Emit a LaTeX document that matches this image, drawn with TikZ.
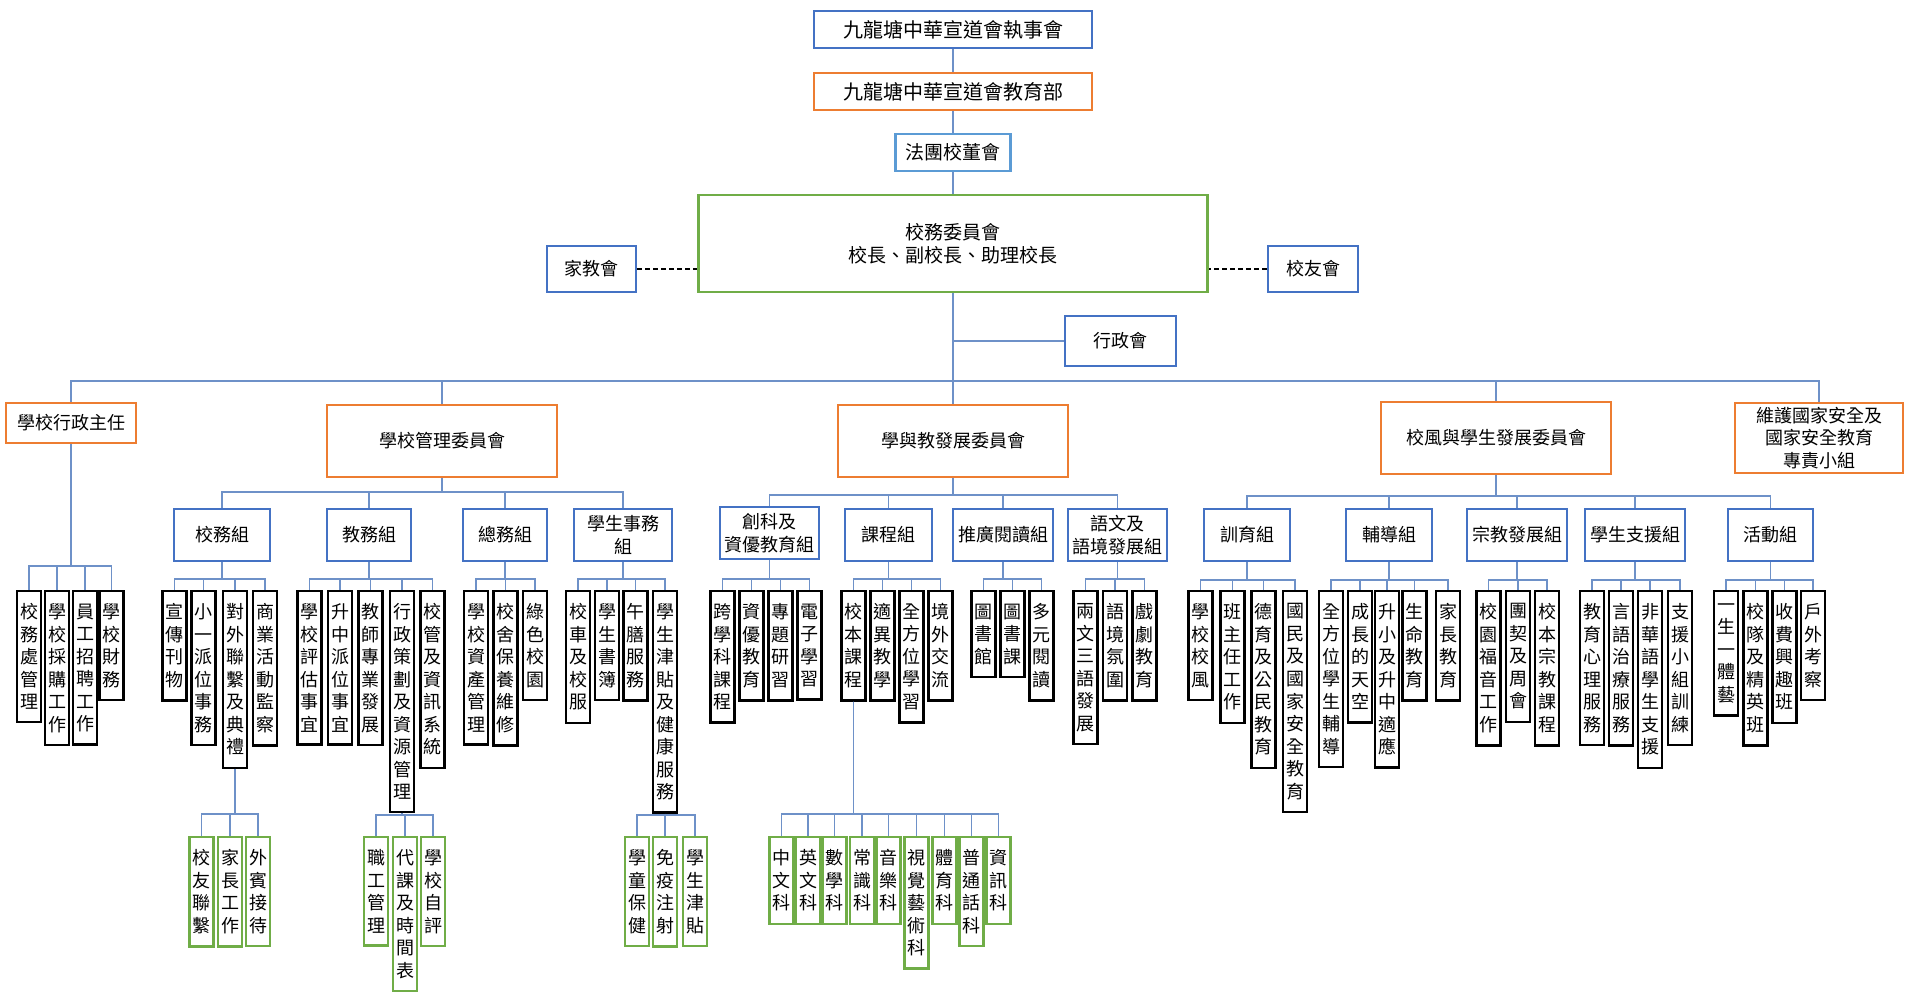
\documentclass[tikz,border=0pt]{standalone}
\usepackage{fontspec}
\setmainfont{Noto Sans CJK TC}
\usetikzlibrary{calc}
\definecolor{cblue}{RGB}{68,114,196}
\definecolor{lblue}{RGB}{91,155,213}
\definecolor{corange}{RGB}{237,125,49}
\definecolor{cgreen}{RGB}{112,173,71}
\definecolor{lineblue}{RGB}{110,145,200}
\makeatletter
\def\vt#1{\vt@a#1\@nil}
\def\vt@a#1#2\@nil{#1\ifx\relax#2\relax\expandafter\@gobble\else\expandafter\@firstofone\fi{\\\vt@a#2\@nil}}
\makeatother
\newcommand\fs[1]{\fontsize{#1}{22.5}\selectfont}
\tikzset{
  conn/.style={draw=lineblue, line width=1.4pt},
  bx/.style={draw, line width=2.4pt, fill=white, inner sep=0pt, align=center, font=\fs{18}},
  blueb/.style={bx, draw=cblue},
  orb/.style={bx, draw=corange},
  leaf/.style={draw=black, fill=white, line width=2.4pt, anchor=north, minimum width=24pt, inner xsep=0pt, inner ysep=12.5pt, align=center, font=\fs{18}},
  gleaf/.style={leaf, draw=cgreen},
  dashcon/.style={draw=black, line width=2.4pt, dash pattern=on 5pt off 3pt},
}
\newcommand\tree[3]{\foreach \ch in {#3} {\draw[conn] (#1.south) -- (#1.south |- 0,#2) -| (\ch.north);}}
\begin{document}
\begin{tikzpicture}[x=1pt,y=-1pt]
\useasboundingbox[fill=white] (0,0) rectangle (1905,995);
% ---- top ----
\node[blueb, font=\fs{20}, minimum width=278pt, minimum height=37pt] (exec) at (953,29.5) {九龍塘中華宣道會執事會};
\node[orb, font=\fs{20}, minimum width=278pt, minimum height=37pt] (edu) at (953,91.5) {九龍塘中華宣道會教育部};
\node[bx, draw=lblue, font=\fs{19}, minimum width=115pt, minimum height=37pt] (imc) at (953,152.5) {法團校董會};
\node[bx, draw=cgreen, font=\fs{19}, minimum width=509pt, minimum height=97pt] (sc) at (953,243.5) {校務委員會\\校長、副校長、助理校長};
\node[blueb, minimum width=89pt, minimum height=46pt] (pta) at (591.5,269) {家教會};
\node[blueb, minimum width=90pt, minimum height=46pt] (alu) at (1313,269) {校友會};
\node[blueb, minimum width=111pt, minimum height=50pt] (adm) at (1120.5,341) {行政會};
% ---- level 2 ----
\node[orb, minimum width=130pt, minimum height=40pt] (L1) at (71,423) {學校行政主任};
\node[orb, minimum width=230pt, minimum height=72pt] (L2) at (442,441) {學校管理委員會};
\node[orb, minimum width=230pt, minimum height=72pt] (L3) at (953,441) {學與教發展委員會};
\node[orb, minimum width=230pt, minimum height=72pt] (L4) at (1496,438) {校風與學生發展委員會};
\node[orb, minimum width=168pt, minimum height=70pt] (L5) at (1819,438) {維護國家安全及\\國家安全教育\\專責小組};
% ---- groups ----
\node[blueb, minimum width=96pt, minimum height=52pt] (g1) at (222,535) {校務組};
\node[blueb, minimum width=84pt, minimum height=52pt] (g2) at (369,535) {教務組};
\node[blueb, minimum width=84pt, minimum height=52pt] (g3) at (505,535) {總務組};
\node[blueb, minimum width=98pt, minimum height=52pt] (g4) at (623,535) {學生事務\\組};
\node[blueb, minimum width=99pt, minimum height=52pt] (g5) at (769.5,533) {創科及\\資優教育組};
\node[blueb, minimum width=87pt, minimum height=52pt] (g6) at (888.5,535) {課程組};
\node[blueb, minimum width=100pt, minimum height=52pt] (g7) at (1003,535) {推廣閱讀組};
\node[blueb, minimum width=99pt, minimum height=52pt] (g8) at (1117.5,535) {語文及\\語境發展組};
\node[blueb, minimum width=86pt, minimum height=52pt] (g9) at (1247,535) {訓育組};
\node[blueb, minimum width=86pt, minimum height=52pt] (g10) at (1389,535) {輔導組};
\node[blueb, minimum width=100pt, minimum height=52pt] (g11) at (1517,535) {宗教發展組};
\node[blueb, minimum width=100pt, minimum height=52pt] (g12) at (1635,535) {學生支援組};
\node[blueb, minimum width=85pt, minimum height=52pt] (g13) at (1770.5,535) {活動組};
% ---- leaves ----
\node[leaf] (a1) at (29,590) {\vt{校務處管理}};
\node[leaf] (a2) at (57,590) {\vt{學校採購工作}};
\node[leaf] (a3) at (85,590) {\vt{員工招聘工作}};
\node[leaf] (a4) at (111.5,590) {\vt{學校財務}};
\node[leaf] (b1) at (174.5,590) {\vt{宣傳刊物}};
\node[leaf] (b2) at (203.5,590) {\vt{小一派位事務}};
\node[leaf] (b3) at (235,590) {\vt{對外聯繫及典禮}};
\node[leaf] (b4) at (265,590) {\vt{商業活動監察}};
\node[leaf] (c1) at (309.5,590) {\vt{學校評估事宜}};
\node[leaf] (c2) at (340,590) {\vt{升中派位事宜}};
\node[leaf] (c3) at (370.5,590) {\vt{教師專業發展}};
\node[leaf] (c4) at (402,590) {\vt{行政策劃及資源管理}};
\node[leaf] (c5) at (432.5,590) {\vt{校管及資訊系統}};
\node[leaf] (d1) at (476,590) {\vt{學校資產管理}};
\node[leaf] (d2) at (505.5,590) {\vt{校舍保養維修}};
\node[leaf] (d3) at (535,590) {\vt{綠色校園}};
\node[leaf] (e1) at (578,590) {\vt{校車及校服}};
\node[leaf] (e2) at (607,590) {\vt{學生書簿}};
\node[leaf] (e3) at (635.5,590) {\vt{午膳服務}};
\node[leaf] (e4) at (665,590) {\vt{學生津貼及健康服務}};
\node[leaf] (f1) at (722.5,590) {\vt{跨學科課程}};
\node[leaf] (f2) at (751.5,590) {\vt{資優教育}};
\node[leaf] (f3) at (780.5,590) {\vt{專題研習}};
\node[leaf] (f4) at (809.5,590) {\vt{電子學習}};
\node[leaf] (h1) at (853.5,590) {\vt{校本課程}};
\node[leaf] (h2) at (882.5,590) {\vt{適異教學}};
\node[leaf] (h3) at (911.5,590) {\vt{全方位學習}};
\node[leaf] (h4) at (940.5,590) {\vt{境外交流}};
\node[leaf] (i1) at (983.5,590) {\vt{圖書館}};
\node[leaf] (i2) at (1012.5,590) {\vt{圖書課}};
\node[leaf] (i3) at (1041.5,590) {\vt{多元閱讀}};
\node[leaf] (j1) at (1085.5,590) {\vt{兩文三語發展}};
\node[leaf] (j2) at (1115,590) {\vt{語境氛圍}};
\node[leaf] (j3) at (1144.5,590) {\vt{戲劇教育}};
\node[leaf] (k1) at (1200.5,590) {\vt{學校校風}};
\node[leaf] (k2) at (1232.5,590) {\vt{班主任工作}};
\node[leaf] (k3) at (1263.5,590) {\vt{德育及公民教育}};
\node[leaf] (k4) at (1295,590) {\vt{國民及國家安全教育}};
\node[leaf] (l1) at (1331,590) {\vt{全方位學生輔導}};
\node[leaf] (l2) at (1360,590) {\vt{成長的天空}};
\node[leaf] (l3) at (1387,590) {\vt{升小及升中適應}};
\node[leaf] (l4) at (1414.5,590) {\vt{生命教育}};
\node[leaf] (l5) at (1448,590) {\vt{家長教育}};
\node[leaf] (m1) at (1488.5,590) {\vt{校園福音工作}};
\node[leaf] (m2) at (1518,590) {\vt{團契及周會}};
\node[leaf] (m3) at (1547,590) {\vt{校本宗教課程}};
\node[leaf] (n1) at (1592,590) {\vt{教育心理服務}};
\node[leaf] (n2) at (1621,590) {\vt{言語治療服務}};
\node[leaf] (n3) at (1650,590) {\vt{非華語學生支援}};
\node[leaf] (n4) at (1680,590) {\vt{支援小組訓練}};
\node[leaf] (o1) at (1726,590) {\vt{一生一體藝}};
\node[leaf] (o2) at (1755.5,590) {\vt{校隊及精英班}};
\node[leaf] (o3) at (1784.5,590) {\vt{收費興趣班}};
\node[leaf] (o4) at (1813,590) {\vt{戶外考察}};
% ---- green leaves ----
\node[gleaf] (p1) at (201.5,836) {\vt{校友聯繫}};
\node[gleaf] (p2) at (230,836) {\vt{家長工作}};
\node[gleaf] (p3) at (258,836) {\vt{外賓接待}};
\node[gleaf] (q1) at (376,836) {\vt{職工管理}};
\node[gleaf] (q2) at (405,836) {\vt{代課及時間表}};
\node[gleaf] (q3) at (433,836) {\vt{學校自評}};
\node[gleaf] (r1) at (637,836) {\vt{學童保健}};
\node[gleaf] (r2) at (665,836) {\vt{免疫注射}};
\node[gleaf] (r3) at (695,836) {\vt{學生津貼}};
\node[gleaf] (s1) at (781.5,836) {\vt{中文科}};
\node[gleaf] (s2) at (808,836) {\vt{英文科}};
\node[gleaf] (s3) at (834.5,836) {\vt{數學科}};
\node[gleaf] (s4) at (862,836) {\vt{常識科}};
\node[gleaf] (s5) at (888.5,836) {\vt{音樂科}};
\node[gleaf] (s6) at (916.5,836) {\vt{視覺藝術科}};
\node[gleaf] (s7) at (944.5,836) {\vt{體育科}};
\node[gleaf] (s8) at (971.5,836) {\vt{普通話科}};
\node[gleaf] (s9) at (998.5,836) {\vt{資訊科}};
% ---- connectors ----
\draw[conn] (exec.south) -- (edu.north);
\draw[conn] (edu.south) -- (imc.north);
\draw[conn] (imc.south) -- (sc.north);
\draw[conn] (sc.south) -- (L3.north);
\draw[conn] (sc.south |- adm.west) -- (adm.west);
\draw[dashcon] (pta.east) -- (pta.east -| sc.west);
\draw[dashcon] (alu.west) -- (alu.west -| sc.east);
\coordinate (busM) at (953,381);
\foreach \ch in {L1,L2,L4,L5} {\draw[conn] (busM) -| (\ch.north);}
\tree{L1}{566}{a1,a2,a3,a4}
\tree{L2}{492}{g1,g2,g3,g4}
\tree{L3}{495}{g5,g6,g7,g8}
\tree{L4}{496}{g9,g10,g11,g12,g13}
\tree{g1}{579}{b1,b2,b3,b4}
\tree{g2}{579}{c1,c2,c3,c4,c5}
\tree{g3}{579}{d1,d2,d3}
\tree{g4}{579}{e1,e2,e3,e4}
\tree{g5}{579}{f1,f2,f3,f4}
\tree{g6}{579}{h1,h2,h3,h4}
\tree{g7}{579}{i1,i2,i3}
\tree{g8}{579}{j1,j2,j3}
\tree{g9}{580}{k1,k2,k3,k4}
\tree{g10}{580}{l1,l2,l3,l4,l5}
\tree{g11}{580}{m1,m2,m3}
\tree{g12}{580}{n1,n2,n3,n4}
\tree{g13}{580}{o1,o2,o3,o4}
\tree{b3}{814}{p1,p2,p3}
\tree{c4}{815}{q1,q2,q3}
\tree{e4}{815}{r1,r2,r3}
\tree{h1}{814}{s1,s2,s3,s4,s5,s6,s7,s8,s9}
\end{tikzpicture}
\end{document}
